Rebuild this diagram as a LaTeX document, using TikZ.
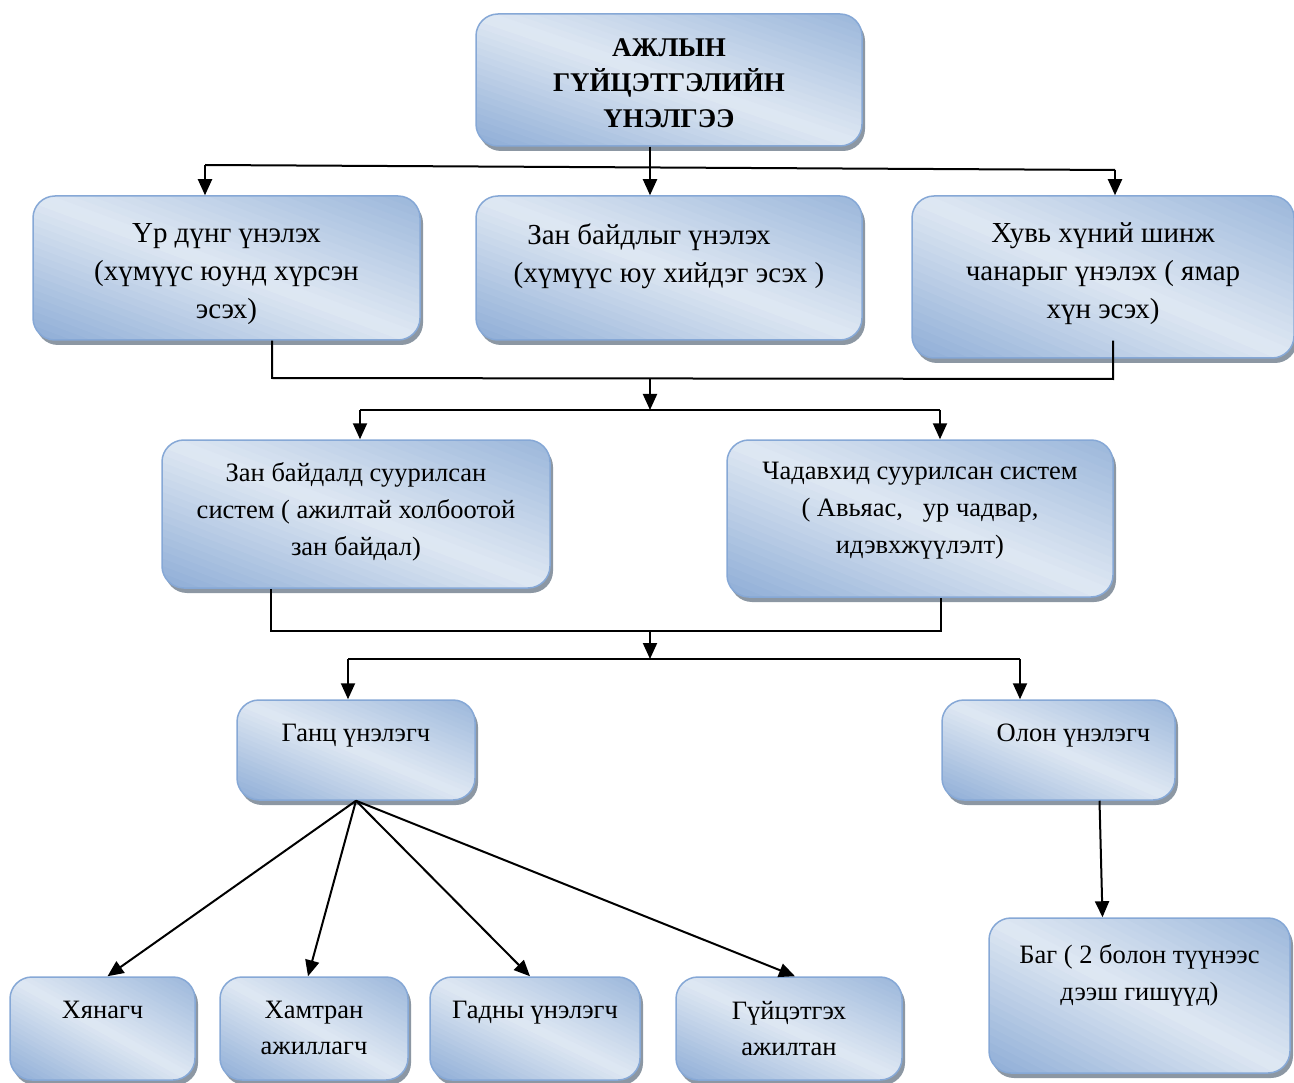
\documentclass[tikz,border=0pt]{standalone}
\usepackage{fontspec}
\setmainfont{Liberation Serif}
\usetikzlibrary{arrows.meta,shadows,calc}
\definecolor{dk}{HTML}{8EADD6}
\definecolor{lt}{HTML}{DFE8F3}
\definecolor{bd}{HTML}{86A8D6}
\definecolor{sh}{HTML}{7F8C99}
\newcommand\gradfill{%
  \begin{scope}[sharp corners,
      x={($(path picture bounding box.south east)-(path picture bounding box.south west)$)},
      y={($(path picture bounding box.north west)-(path picture bounding box.south west)$)}]
    \foreach \gi in {0,...,39}{
      \pgfmathsetmacro\gsa{\gi/20}
      \pgfmathsetmacro\gsb{(\gi+1)/20+0.01}
      \pgfmathsetmacro\gt{(\gi+0.5)/40}
      \pgfmathsetmacro\gm{\gt<0.5 ? (1-2*\gt)*100 : (2*\gt-1)*85}
      \fill[dk!\gm!lt] (\gsa+0.5,-1.5) -- (\gsa-2.5,1.5) -- (\gsb-2.5,1.5) -- (\gsb+0.5,-1.5) -- cycle;
    }
  \end{scope}}
\begin{document}
\begin{tikzpicture}[x=1pt,y=-1pt,
  box/.style={draw=bd, line width=1.5pt, rounded corners=22pt,
    fill=lt, path picture={\gradfill},
    drop shadow={shadow xshift=3pt, shadow yshift=-5pt, fill=sh, opacity=0.9},
    inner sep=0pt},
  txt/.style={font=\fontsize{26.5}{36}\selectfont, align=center, inner sep=0pt, anchor=north},
  txtbig/.style={txt, font=\fontsize{29}{38}\selectfont},
  con/.style={line width=2pt, draw=black},
  arr/.style={con, -{Triangle[length=16pt,width=14pt]}}]
\useasboundingbox (0,0) rectangle (1294,1083);

% boxes
\node[box, minimum width=386pt, minimum height=132pt] (T) at (669,80) {};
\node[box, minimum width=387pt, minimum height=144pt] (A) at (226.5,268) {};
\node[box, minimum width=386pt, minimum height=144pt] (B) at (669,268) {};
\node[box, minimum width=382pt, minimum height=162pt] (C) at (1103,277) {};
\node[box, minimum width=388pt, minimum height=148pt] (D) at (356,514) {};
\node[box, minimum width=386pt, minimum height=157pt] (E) at (920,518.5) {};
\node[box, minimum width=238pt, minimum height=100pt] (G) at (356,750) {};
\node[box, minimum width=233pt, minimum height=100pt] (O) at (1058.5,750) {};
\node[box, minimum width=185pt, minimum height=103pt] (K1) at (102.5,1028.5) {};
\node[box, minimum width=188pt, minimum height=103pt] (K2) at (314,1028.5) {};
\node[box, minimum width=210pt, minimum height=103pt] (K3) at (535,1028.5) {};
\node[box, minimum width=226pt, minimum height=103pt] (K4) at (789,1028.5) {};
\node[box, minimum width=301pt, minimum height=155pt] (Bag) at (1139.5,995.5) {};

% texts
\node[txt, font=\fontsize{27}{35.5}\selectfont\bfseries] (Tt) at ([yshift=-25pt]T.north) {АЖЛЫН\\ГҮЙЦЭТГЭЛИЙН\\ҮНЭЛГЭЭ};
\node[txtbig] (At) at ([yshift=-28pt]A.north) {Үр дүнг үнэлэх\\(хүмүүс юунд хүрсэн\\эсэх)};
\node[txtbig] (Bt) at ([yshift=-28pt]B.north) {Зан байдлыг үнэлэх\hspace*{40pt}\\(хүмүүс юу хийдэг эсэх )};
\node[txtbig] (Ct) at ([yshift=-27pt]C.north) {Хувь хүний шинж\\чанарыг үнэлэх ( ямар\\хүн эсэх)};
\node[txt, font=\fontsize{26.5}{37}\selectfont] (Dt) at ([yshift=-23pt]D.north) {Зан байдалд суурилсан\\систем ( ажилтай холбоотой\\зан байдал)};
\node[txt, font=\fontsize{26.5}{37}\selectfont] (Et) at ([yshift=-23pt]E.north) {Чадавхид суурилсан систем\\( Авьяас,\ \ \ ур чадвар,\\идэвхжүүлэлт)};
\node[txt] (Gt) at ([yshift=-25pt]G.north) {Ганц үнэлэгч};
\node[txt] (Ot) at ([xshift=15pt,yshift=-25pt]O.north) {Олон үнэлэгч};
\node[txt] (K1t) at ([yshift=-25pt]K1.north) {Хянагч};
\node[txt] (K2t) at ([yshift=-25pt]K2.north) {Хамтран\\ажиллагч};
\node[txt] (K3t) at ([yshift=-25pt]K3.north) {Гадны үнэлэгч};
\node[txt] (K4t) at ([yshift=-25pt]K4.north) {Гүйцэтгэх\\ажилтан};
\node[txt, font=\fontsize{26.5}{37}\selectfont] (Bagt) at ([yshift=-27pt]Bag.north) {Баг ( 2 болон түүнээс\\дээш гишүүд)};

% level 1 -> 2
\coordinate (a1) at (650,167.5);
\coordinate (aL) at (205,165);
\coordinate (aR) at (1115,170);
\draw[con] (T.south -| a1) -- (a1);
\draw[con] (aL) -- (aR);
\draw[arr] (aL) -- (A.north -| aL);
\draw[arr] (a1) -- (B.north -| a1);
\draw[arr] (aR) -- (C.north -| aR);

% level 2 -> 3
\coordinate (bL) at (272,378);
\coordinate (bR) at (1113,379);
\coordinate (b1) at (650,378.5);
\coordinate (b2) at (650,410);
\coordinate (cL) at (360,410);
\coordinate (cR) at (940,410);
\draw[con] (A.south -| bL) -- (bL) -- (bR) -- ($(C.south -| bR)+(0,-18)$);
\draw[arr] (b1) -- (b2);
\draw[con] (cL) -- (cR);
\draw[arr] (cL) -- (D.north -| cL);
\draw[arr] (cR) -- (E.north -| cR);

% level 3 -> 4
\coordinate (dL) at (271,631);
\coordinate (dR) at (941,631);
\coordinate (d1) at (650,631);
\coordinate (d2) at (650,659);
\coordinate (eL) at (348,659);
\coordinate (eR) at (1020,659);
\draw[con] (D.south -| dL) -- (dL) -- (dR) -- (E.south -| dR);
\draw[arr] (d1) -- (d2);
\draw[con] (eL) -- (eR);
\draw[arr] (eL) -- (G.north -| eL);
\draw[arr] (eR) -- (O.north -| eR);

% level 4 -> 5
\draw[arr] (G.south) -- ([xshift=5pt]K1.north);
\draw[arr] (G.south) -- ([xshift=-6pt]K2.north);
\draw[arr] (G.south) -- ([xshift=-5pt]K3.north);
\draw[arr] (G.south) -- ([xshift=6pt]K4.north);
\draw[arr] ([xshift=41pt]O.south) -- ([xshift=-37pt]Bag.north);
\end{tikzpicture}
\end{document}
